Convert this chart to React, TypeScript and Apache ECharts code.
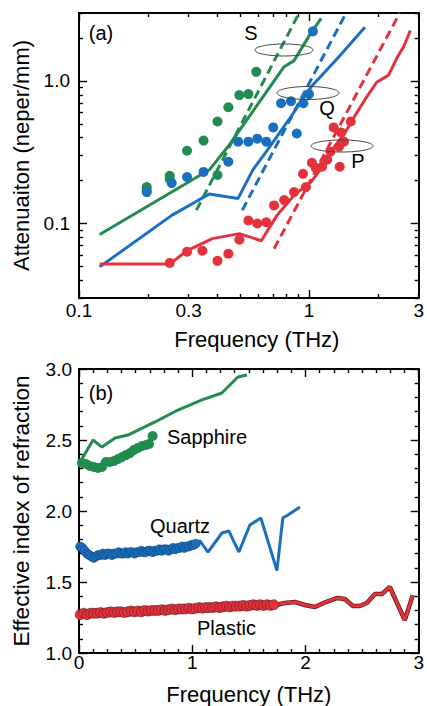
import React, { useEffect, useRef } from 'react';
import * as echarts from 'echarts';

const FONT = '"Liberation Sans", Arial, Helvetica, sans-serif';
const GREEN = '#228b4f';
const BLUE = '#1b6fbf';
const RED = '#e4323c';

// ---------- Panel (a): attenuation, log-log ----------
const aXLabelValues = [0.1, 0.3, 1, 3];
const aXMajorTicks = [0.1, 1];
const aXMinorTicks = [0.2, 0.3, 0.4, 0.5, 0.6, 0.7, 0.8, 0.9, 2, 3];
const aYLabelValues = [0.1, 1];
const aYMajorTicks = [0.1, 1];
const aYMinorTicks = [0.03, 0.04, 0.05, 0.06, 0.07, 0.08, 0.09, 0.2, 0.3, 0.4, 0.5, 0.6, 0.7, 0.8, 0.9, 2, 3];

const sapphireFit = [[0.123, 0.0836], [0.369, 0.238], [0.451, 0.357], [0.78, 1.26], [0.861, 1.39], [1.03, 2.23], [1.13, 2.75]];
const sapphireDashed = [[0.324, 0.124], [0.905, 2.99]];
const sapphireAtten = [[0.197, 0.18], [0.197, 0.171], [0.248, 0.216], [0.248, 0.205], [0.295, 0.324], [0.348, 0.382], [0.4, 0.219], [0.4, 0.52], [0.446, 0.654], [0.498, 0.796], [0.545, 0.809], [0.59, 1.16]];

const quartzFit = [[0.123, 0.0496], [0.253, 0.114], [0.369, 0.161], [0.492, 0.15], [0.57, 0.238], [0.652, 0.319], [0.819, 0.537], [1.02, 0.906], [1.35, 1.48], [1.75, 2.38]];
const quartzDashed = [[0.513, 0.124], [1.45, 3.0]];
const quartzAtten = [[0.197, 0.166], [0.253, 0.192], [0.295, 0.212], [0.348, 0.23], [0.446, 0.271], [0.492, 0.375], [0.545, 0.375], [0.596, 0.394], [0.652, 0.375], [0.699, 0.472], [0.756, 0.698], [0.835, 0.721], [0.885, 0.428], [0.945, 0.698], [1.0, 0.809], [1.04, 2.23]];

const plasticFit = [[0.123, 0.052], [0.248, 0.052], [0.295, 0.0644], [0.38, 0.0783], [0.498, 0.0849], [0.62, 0.0757], [0.726, 0.114], [0.861, 0.158], [1.02, 0.195], [1.16, 0.258], [1.26, 0.33], [1.42, 0.421], [1.57, 0.556], [1.78, 0.77], [1.97, 0.98], [2.22, 1.1], [2.4, 1.43], [2.58, 1.74], [2.76, 2.26]];
const plasticDashed = [[0.705, 0.0665], [2.48, 3.0]];
const plasticAtten = [[0.248, 0.0529], [0.295, 0.0633], [0.344, 0.0644], [0.4, 0.0547], [0.446, 0.0613], [0.498, 0.077], [0.545, 0.105], [0.596, 0.1], [0.652, 0.102], [0.705, 0.134], [0.78, 0.146], [0.861, 0.166], [0.942, 0.223], [0.97, 0.18], [1.03, 0.267], [1.07, 0.245], [1.14, 0.25], [1.2, 0.28], [1.24, 0.319], [1.35, 0.346], [1.36, 0.25], [1.28, 0.472], [1.38, 0.435], [1.42, 0.375], [1.52, 0.52]];

// ---------- Panel (b): effective index ----------
const bXTicks = [0, 1, 2, 3];
const bYTicks = [1.0, 1.5, 2.0, 2.5, 3.0];

const sapphireIndexFit = [[0.01, 2.345], [0.124, 2.5], [0.203, 2.45], [0.318, 2.514], [0.432, 2.535], [0.671, 2.627], [0.874, 2.711], [1.086, 2.782], [1.262, 2.831], [1.35, 2.901], [1.403, 2.944], [1.483, 2.958]];
const sapphireIndex = [[0.026, 2.338], [0.062, 2.331], [0.097, 2.317], [0.132, 2.31], [0.168, 2.303], [0.203, 2.31], [0.238, 2.345], [0.274, 2.345], [0.309, 2.352], [0.344, 2.366], [0.38, 2.38], [0.415, 2.394], [0.45, 2.408], [0.485, 2.43], [0.521, 2.444], [0.556, 2.458], [0.591, 2.465], [0.618, 2.472], [0.65, 2.528]];

const quartzIndex = [[0.01, 1.75], [0.03, 1.74], [0.05, 1.72], [0.07, 1.7], [0.09, 1.69], [0.11, 1.68], [0.13, 1.67], [0.15, 1.68], [0.17, 1.69], [0.19, 1.69], [0.21, 1.7], [0.23, 1.69], [0.25, 1.7], [0.27, 1.7], [0.29, 1.69], [0.31, 1.7], [0.33, 1.7], [0.35, 1.71], [0.37, 1.7], [0.39, 1.7], [0.41, 1.71], [0.43, 1.7], [0.45, 1.71], [0.47, 1.71], [0.49, 1.7], [0.51, 1.71], [0.53, 1.71], [0.55, 1.72], [0.57, 1.71], [0.59, 1.71], [0.61, 1.72], [0.63, 1.72], [0.65, 1.71], [0.67, 1.72], [0.69, 1.72], [0.71, 1.73], [0.73, 1.72], [0.75, 1.73], [0.77, 1.73], [0.79, 1.72], [0.81, 1.73], [0.83, 1.74], [0.85, 1.73], [0.87, 1.74], [0.89, 1.74], [0.91, 1.75], [0.93, 1.74], [0.95, 1.75], [0.97, 1.75], [0.99, 1.76], [1.01, 1.76], [1.03, 1.77]];
const quartzIndexFit = [[1.03, 1.765], [1.068, 1.789], [1.139, 1.711], [1.262, 1.845], [1.324, 1.859], [1.412, 1.711], [1.509, 1.901], [1.606, 1.951], [1.748, 1.58], [1.8, 1.951], [1.845, 1.972], [1.951, 2.028]];

const plasticIndex = [[0.01, 1.27], [0.04, 1.28], [0.07, 1.27], [0.1, 1.28], [0.13, 1.28], [0.16, 1.28], [0.19, 1.285], [0.22, 1.28], [0.25, 1.285], [0.28, 1.29], [0.31, 1.285], [0.34, 1.29], [0.37, 1.29], [0.4, 1.285], [0.43, 1.29], [0.46, 1.295], [0.49, 1.29], [0.52, 1.295], [0.55, 1.29], [0.58, 1.3], [0.61, 1.295], [0.64, 1.3], [0.67, 1.3], [0.7, 1.3], [0.73, 1.305], [0.76, 1.3], [0.79, 1.305], [0.82, 1.31], [0.85, 1.305], [0.88, 1.31], [0.91, 1.31], [0.94, 1.31], [0.97, 1.315], [1.0, 1.31], [1.03, 1.315], [1.06, 1.32], [1.09, 1.315], [1.12, 1.32], [1.15, 1.32], [1.18, 1.32], [1.21, 1.325], [1.24, 1.32], [1.27, 1.325], [1.3, 1.33], [1.33, 1.325], [1.36, 1.33], [1.39, 1.33], [1.42, 1.33], [1.45, 1.335], [1.48, 1.33], [1.51, 1.335], [1.54, 1.34], [1.57, 1.335], [1.6, 1.34], [1.63, 1.335], [1.66, 1.34], [1.69, 1.335], [1.72, 1.34]];
const plasticIndexFit = [[1.72, 1.335], [1.818, 1.352], [1.906, 1.359], [1.995, 1.338], [2.083, 1.324], [2.18, 1.359], [2.277, 1.387], [2.348, 1.38], [2.418, 1.331], [2.48, 1.331], [2.542, 1.352], [2.613, 1.415], [2.674, 1.415], [2.745, 1.465], [2.816, 1.338], [2.877, 1.232], [2.948, 1.408]];

const labelStyle = { color: '#000', fontSize: 19, fontFamily: FONT };
const nameStyle = { color: '#000', fontSize: 22, fontFamily: FONT };
const black = { color: '#000', width: 1.4 };

function fmtLogX(v: number) {
  return v < 1 ? v.toFixed(1) : String(Math.round(v));
}

function logAxis(pos: string, grid: number, min: number, max: number, major: boolean, ticks: number[], extra: any = {}) {
  return {
    type: 'log', logBase: 10, gridIndex: grid, position: pos, min, max,
    axisLine: { show: major, onZero: false, lineStyle: { color: '#000', width: 2 } },
    axisTick: { show: true, inside: true, length: major ? 8 : 4, customValues: ticks, lineStyle: black },
    axisLabel: { show: false },
    splitLine: { show: false },
    minorTick: { show: false },
    ...extra,
  };
}

function valAxis(pos: string, grid: number, min: number, max: number, interval: number, split: number, extra: any = {}) {
  return {
    type: 'value', gridIndex: grid, position: pos, min, max, interval,
    axisLine: { show: true, onZero: false, lineStyle: { color: '#000', width: 2 } },
    axisTick: { show: true, inside: true, length: 8, lineStyle: black },
    minorTick: { show: true, splitNumber: split, length: 4, lineStyle: black },
    axisLabel: { show: false },
    splitLine: { show: false },
    minorSplitLine: { show: false },
    ...extra,
  };
}

const lineS = (data: number[][], color: string, x: number, y: number, dashed = false, width = 3) => ({
  type: 'line', data, xAxisIndex: x, yAxisIndex: y, symbol: 'none', showSymbol: false,
  lineStyle: { color, width, type: dashed ? [9, 5] : 'solid' }, z: 3, silent: true,
});
const dotS = (data: number[][], color: string, x: number, y: number, size: number, border?: string) => ({
  type: 'scatter', data, xAxisIndex: x, yAxisIndex: y, symbol: 'circle', symbolSize: size,
  itemStyle: { color, opacity: 1, borderColor: border || color, borderWidth: border ? 0.6 : 0 }, z: 4, silent: true,
});

const textEl = (text: string, x: number, y: number, align = 'center', size = 20) => ({
  type: 'text', x, y, z: 10,
  style: { text, fill: '#000', font: `${size}px ${FONT}`, align, verticalAlign: 'middle', textAlign: align, textVerticalAlign: 'middle' },
});
const ellEl = (cx: number, cy: number, rx: number, ry: number) => ({
  type: 'ellipse', z: 10, shape: { cx, cy, rx, ry },
  style: { fill: 'none', stroke: '#444', lineWidth: 1 },
});

const option: any = {
  animation: false,
  backgroundColor: '#fff',
  grid: [
    { left: 79, top: 13, width: 340, height: 285 },
    { left: 79, top: 369, width: 340, height: 284 },
  ],
  xAxis: [
    logAxis('bottom', 0, 0.1, 3, true, aXMajorTicks, {
      axisLabel: { show: true, customValues: aXLabelValues, formatter: (v: number) => fmtLogX(v), margin: 3, ...labelStyle },
      name: 'Frequency (THz)', nameLocation: 'middle', nameGap: 30, nameTextStyle: { ...nameStyle, padding: [0, 0, 0, 16] },
    }),
    logAxis('bottom', 0, 0.1, 3, false, aXMinorTicks),
    logAxis('top', 0, 0.1, 3, true, aXMajorTicks),
    logAxis('top', 0, 0.1, 3, false, aXMinorTicks),
    valAxis('bottom', 1, 0, 3, 1, 8, {
      axisLabel: { show: true, customValues: bXTicks, margin: 0, formatter: (v: number) => String(v), ...labelStyle },
      name: 'Frequency (THz)', nameLocation: 'middle', nameGap: 30, nameTextStyle: nameStyle,
    }),
    valAxis('top', 1, 0, 3, 1, 8),
  ],
  yAxis: [
    logAxis('left', 0, 0.03, 3, true, aYMajorTicks, {
      axisLabel: { show: true, customValues: aYLabelValues, formatter: (v: number) => v.toFixed(1), margin: 9, ...labelStyle },
      name: 'Attenuaiton (neper/mm)', nameLocation: 'middle', nameGap: 46, nameTextStyle: nameStyle,
    }),
    logAxis('left', 0, 0.03, 3, false, aYMinorTicks),
    logAxis('right', 0, 0.03, 3, true, aYMajorTicks),
    logAxis('right', 0, 0.03, 3, false, aYMinorTicks),
    valAxis('left', 1, 1, 3, 0.5, 5, {
      axisLabel: { show: true, customValues: bYTicks, formatter: (v: number) => v.toFixed(1), margin: 7, ...labelStyle },
      name: 'Effective index of refraction', nameLocation: 'middle', nameGap: 46, nameTextStyle: { ...nameStyle, fontSize: 22.5 },
    }),
    valAxis('right', 1, 1, 3, 0.5, 5),
  ],
  series: [
    lineS(sapphireFit, GREEN, 0, 0),
    lineS(sapphireDashed, GREEN, 0, 0, true),
    lineS(quartzFit, BLUE, 0, 0),
    lineS(quartzDashed, BLUE, 0, 0, true),
    lineS(plasticFit, RED, 0, 0),
    lineS(plasticDashed, RED, 0, 0, true),
    dotS(sapphireAtten, GREEN, 0, 0, 10),
    dotS(quartzAtten, BLUE, 0, 0, 10),
    dotS(plasticAtten, RED, 0, 0, 10),

    lineS(sapphireIndexFit, GREEN, 4, 4),
    dotS(sapphireIndex, GREEN, 4, 4, 10),
    lineS(quartzIndexFit, BLUE, 4, 4),
    dotS(quartzIndex, BLUE, 4, 4, 9, '#0e3f73'),
    lineS(plasticIndexFit, '#5a1a1a', 4, 4, false, 4.5),
    lineS(plasticIndexFit, RED, 4, 4, false, 3),
    dotS(plasticIndex, RED, 4, 4, 10, '#5a1a1a'),
  ],
  graphic: [
    textEl('(a)', 101, 33),
    textEl('(b)', 101, 393),
    textEl('S', 251, 33),
    textEl('Q', 327, 108),
    textEl('P', 358, 161),
    ellEl(284, 50, 29, 6),
    ellEl(308, 93, 31, 6.5),
    ellEl(342, 146, 31, 6),
    textEl('Sapphire', 167, 437, 'left'),
    textEl('Quartz', 150, 526, 'left'),
    textEl('Plastic', 197, 628, 'left'),
  ],
};

export default function App() {
  const ref = useRef<HTMLDivElement>(null);
  useEffect(() => {
    const chart = echarts.init(ref.current!, null, { renderer: 'svg' });
    chart.setOption(option);
    return () => chart.dispose();
  }, []);
  return (
    <div
      ref={ref}
      style={{ position: 'fixed', left: 0, top: 0, width: 427, height: 706, background: '#fff' }}
    />
  );
}
